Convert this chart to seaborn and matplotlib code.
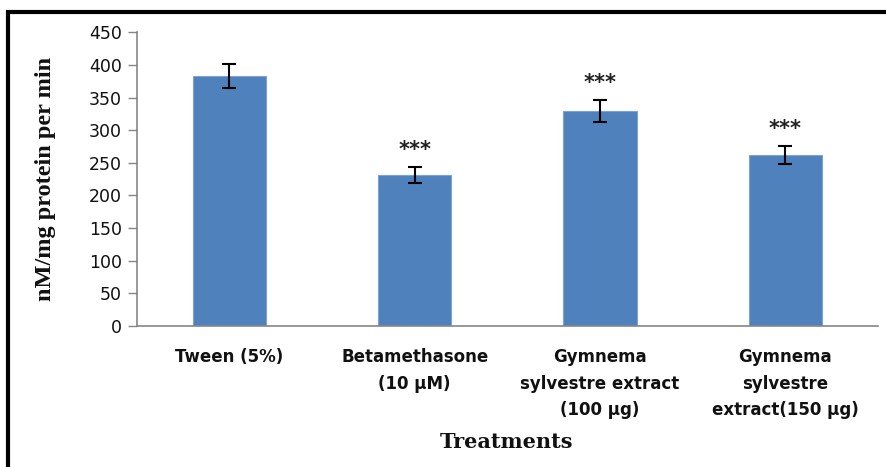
import matplotlib
matplotlib.use("Agg")
import matplotlib.pyplot as plt
from matplotlib.patches import Rectangle
import seaborn as sns
import pandas as pd

# Enzyme activity per treatment (mean ± SEM)
treatments = [
    "Tween (5%)",
    "Betamethasone\n(10 µM)",
    "Gymnema\nsylvestre extract\n(100 µg)",
    "Gymnema\nsylvestre\nextract(150 µg)",
]
activity = [383, 231, 330, 262]
sem = [19, 12, 17, 14]
significance = ["", "***", "***", "***"]

df = pd.DataFrame({"treatment": treatments, "activity": activity})

sns.set_theme(style="white")
plt.rcParams["font.family"] = ["DejaVu Sans"]
plt.rcParams["text.color"] = "#111111"

fig = plt.figure(figsize=(8.86, 4.67), dpi=100)
ax = fig.add_axes([0.1543, 0.3019, 0.8367, 0.6289])

sns.barplot(data=df, x="treatment", y="activity", color="#4F81BD",
            width=0.395, errorbar=None, saturation=1,
            edgecolor="#7FA2D0", linewidth=0.8, ax=ax)

xs = list(range(len(treatments)))
ax.errorbar(xs, activity, yerr=sem, fmt="none", ecolor="black",
            elinewidth=1.5, capsize=5, capthick=1.5, zorder=3)

for x, v, e, s in zip(xs, activity, sem, significance):
    if s:
        ax.annotate(s, xy=(x, v + e), xytext=(0, 5), textcoords="offset points",
                    ha="center", va="bottom", fontsize=15, fontweight="bold",
                    color="#222222")

ax.set_xlim(-0.5, 3.5)
ax.set_ylim(0, 450)
ax.set_yticks(range(0, 451, 50))
ax.tick_params(axis="y", which="major", direction="out", length=6.5, width=1,
               color="#868686", labelsize=12.5, pad=4, left=True,
               labelcolor="#111111")
ax.tick_params(axis="x", length=0, pad=16)
for lbl in ax.get_xticklabels():
    lbl.set_fontfamily("DejaVu Sans")
    lbl.set_fontweight("bold")
    lbl.set_fontsize(12)
    lbl.set_linespacing(1.6)
    lbl.set_color("#111111")

for side in ("top", "right"):
    ax.spines[side].set_visible(False)
for side in ("left", "bottom"):
    ax.spines[side].set_color("#868686")
    ax.spines[side].set_linewidth(1.2)

ax.set_xlabel("")
ax.set_ylabel("nM/mg protein per min", fontfamily="Liberation Serif",
              fontweight="bold", fontsize=17.5, labelpad=24, color="#111111")
fig.text(0.5712, 1 - 442 / 467, "Treatments", fontfamily="DejaVu Serif",
         fontweight="bold", fontsize=15, ha="center", va="center",
         color="#111111")

# Black frame around the figure
fig.patches.append(Rectangle((8 / 886, -0.05), 1.1, 1 - 12 / 467 + 0.05,
                             transform=fig.transFigure, fill=False,
                             edgecolor="black", linewidth=3, zorder=10))

fig.savefig("out.png", dpi=100)
